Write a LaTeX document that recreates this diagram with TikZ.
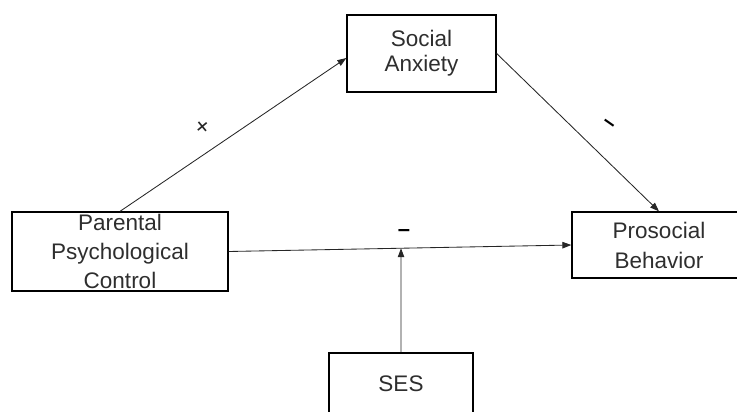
\documentclass[tikz,border=0pt]{standalone}
\usepackage{fontspec}
\setmainfont{Liberation Sans}
\usetikzlibrary{arrows.meta,calc}
\definecolor{txt}{HTML}{2E2E2E}
\tikzset{
  boxnode/.style={draw=black, line width=1.3pt, inner sep=0pt, align=center, text=txt},
  conn/.style={draw=black!85, line width=0.85pt, -{Triangle[length=9pt,width=6.5pt]}},
  sign/.style={text=black, inner sep=0pt, font=\fontsize{22}{22}\selectfont\bfseries},
  plussign/.style={text=black!85, inner sep=0pt, font=\fontsize{24}{24}\selectfont}
}
\begin{document}
\begin{tikzpicture}[x=1pt,y=-1pt]
\useasboundingbox (0,0) rectangle (737,412);
\clip (0,0) rectangle (737,412);
\node[boxnode, minimum width=216pt, minimum height=79pt, font=\fontsize{22.5}{29}\selectfont] (pc) at (120,251.5) {Parental\\Psychological\\Control};
\node[boxnode, minimum width=149pt, minimum height=77pt, font=\fontsize{22.5}{25}\selectfont] (sa) at (421.5,53.5) {Social\\Anxiety};
\node[boxnode, minimum width=174pt, minimum height=66pt, font=\fontsize{22.5}{30}\selectfont] (pb) at (659,245) {Prosocial\\Behavior};
\node[boxnode, minimum width=144pt, minimum height=61pt, font=\fontsize{22.5}{25}\selectfont] (ses) at (401,383.5) {SES};
\draw[conn] (pc.north) -- ([yshift=-4.5pt]sa.west);
\draw[conn] (sa.east) -- (pb.north);
\draw[conn] (pc.east) -- (pb.west);
\coordinate (m) at ($(pc.east)!0.503!(pb.west)$);
\draw[conn] (ses.north) -- (m);
\node[plussign, rotate=40] (plus) at (203,128) {+};
\node[sign, rotate=-35] (minus1) at (608,125) {–};
\node[sign] (minus2) at (404,233) {–};
\end{tikzpicture}
\end{document}
